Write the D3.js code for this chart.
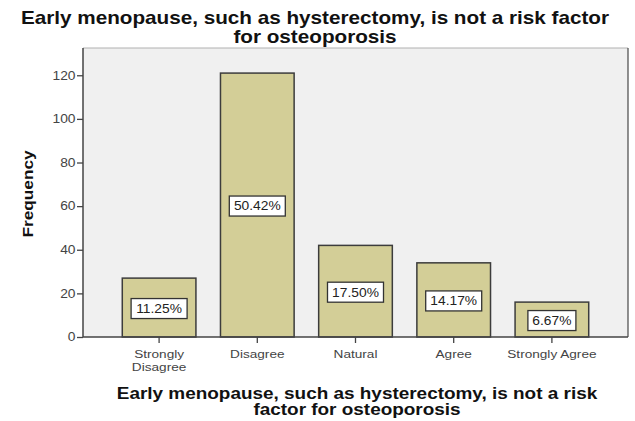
<!DOCTYPE html>
<html>
<head>
<meta charset="utf-8">
<script src="https://cdn.jsdelivr.net/npm/d3@7"></script>
<style>
  body { margin: 0; background: #fff; }
  text { font-family: Arial, "Liberation Sans", sans-serif; }
</style>
</head>
<body>
<div id="chart"></div>
<script>
var width = 635;
var height = 421;

var categories = ["Strongly Disagree", "Disagree", "Natural", "Agree", "Strongly Agree"];
var counts = [27, 121, 42, 34, 16];
var percents = ["11.25%", "50.42%", "17.50%", "14.17%", "6.67%"];
var yTicks = [0, 20, 40, 60, 80, 100, 120];

var plotLeft = 83, plotRight = 628, plotTop = 48, plotBottom = 337;
var sx = 1.15; // text in the picture is stretched a bit wide

var svg = d3.select("#chart")
	.append("svg")
	.attr("width", width)
	.attr("height", height);

var x = d3.scaleBand()
		.domain(categories)
		.range([plotLeft, plotRight])
		.paddingInner(0.25)
		.paddingOuter(0.4);

var y = d3.scaleLinear()
		.domain([0, 132.5])
		.range([plotBottom, plotTop]);

// plot background
svg.append("rect")
	.attr("x", plotLeft)
	.attr("y", plotTop)
	.attr("width", plotRight - plotLeft)
	.attr("height", plotBottom - plotTop)
	.attr("fill", "#f0f0f0")
	.attr("stroke", "none");

svg.append("line")
	.attr("x1", plotLeft).attr("x2", plotRight)
	.attr("y1", plotTop).attr("y2", plotTop)
	.attr("stroke", "#b0b0b0");
svg.append("line")
	.attr("x1", plotRight).attr("x2", plotRight)
	.attr("y1", plotTop).attr("y2", plotBottom)
	.attr("stroke", "#555")
	.attr("stroke-width", 1.3);

// bars
svg.selectAll(".bar")
	.data(categories)
	.enter()
	.append("rect")
	.attr("class", "bar")
	.attr("x", function(d){ return x(d); })
	.attr("y", function(d, i){ return y(counts[i]); })
	.attr("width", x.bandwidth())
	.attr("height", function(d, i){ return y(0) - y(counts[i]); })
	.attr("fill", "#d3ce97")
	.attr("stroke", "#3c3c3c")
	.attr("stroke-width", 1.5);

// percent labels
var lab = svg.selectAll(".lab")
	.data(categories)
	.enter()
	.append("g")
	.attr("class", "lab")
	.attr("transform", function(d, i){
		var cy = (y(counts[i]) + y(0)) / 2 + 1;
		return "translate(" + (x(d) + x.bandwidth() / 2) + "," + cy + ")";
	});

lab.append("rect")
	.attr("x", function(d, i){ return percents[i].length > 5 ? -28 : -24; })
	.attr("y", -10)
	.attr("width", function(d, i){ return percents[i].length > 5 ? 56 : 48; })
	.attr("height", 20)
	.attr("fill", "#fff")
	.attr("stroke", "#333")
	.attr("stroke-width", 1.3);

lab.append("text")
	.attr("text-anchor", "middle")
	.attr("dy", "0.36em")
	.attr("font-size", 12)
	.attr("fill", "#222")
	.attr("transform", "scale(" + sx + ",1)")
	.text(function(d, i){ return percents[i]; });

// y axis
var yAxis = svg.append("g")
	.attr("transform", "translate(" + plotLeft + ",0)")
	.call(d3.axisLeft(y).tickValues(yTicks).tickSize(6).tickSizeOuter(0));
yAxis.select(".domain").attr("stroke", "#444").attr("stroke-width", 1.5)
	.attr("d", "M0," + plotTop + "V" + plotBottom);
yAxis.selectAll(".tick line").attr("stroke", "#444").attr("stroke-width", 1.3);
yAxis.selectAll(".tick text")
	.attr("font-size", 12)
	.attr("fill", "#444")
	.attr("font-family", "Arial, 'Liberation Sans', sans-serif")
	.attr("x", -6.5)
	.attr("transform", "scale(" + sx + ",1)");

// x axis
var xAxis = svg.append("g")
	.attr("transform", "translate(0," + plotBottom + ")")
	.call(d3.axisBottom(x).tickSize(6).tickSizeOuter(0));
xAxis.select(".domain").attr("stroke", "#444").attr("stroke-width", 1.5)
	.attr("d", "M" + plotLeft + ",0H" + plotRight);
xAxis.selectAll(".tick line").attr("stroke", "#444").attr("stroke-width", 1.3);
xAxis.selectAll(".tick text").remove();

xAxis.selectAll(".tick")
	.append("text")
	.attr("text-anchor", "middle")
	.attr("fill", "#444")
	.attr("font-size", 11.5)
	.attr("font-family", "Arial, 'Liberation Sans', sans-serif")
	.attr("transform", "scale(" + (sx * 1.03) + ",1)")
	.each(function(d){
		var t = d3.select(this);
		var lines = d === "Strongly Disagree" ? ["Strongly", "Disagree"] : [d];
		lines.forEach(function(s, k){
			t.append("tspan").attr("x", 0).attr("y", 21 + k * 13).text(s);
		});
	});

// title
var title = ["Early menopause, such as hysterectomy, is not a risk factor", "for osteoporosis"];
svg.append("text")
	.attr("transform", "translate(315,0) scale(" + sx + ",1)")
	.attr("text-anchor", "middle")
	.attr("font-size", 18)
	.attr("font-weight", "bold")
	.attr("fill", "#111")
	.selectAll("tspan")
	.data(title)
	.enter()
	.append("tspan")
	.attr("x", 0)
	.attr("y", function(d, i){ return 24 + i * 19; })
	.text(function(d){ return d; });

// x title
var xTitle = ["Early menopause, such as hysterectomy, is not a risk", "factor for osteoporosis"];
svg.append("text")
	.attr("transform", "translate(357,0) scale(" + (sx * 1.03) + ",1)")
	.attr("text-anchor", "middle")
	.attr("font-size", 16)
	.attr("font-weight", "bold")
	.attr("fill", "#111")
	.selectAll("tspan")
	.data(xTitle)
	.enter()
	.append("tspan")
	.attr("x", 0)
	.attr("y", function(d, i){ return 399 + i * 16.5; })
	.text(function(d){ return d; });

// y title
svg.append("text")
	.attr("transform", "translate(33," + 194 + ") rotate(-90) scale(" + sx + ",1)")
	.attr("text-anchor", "middle")
	.attr("font-size", 15)
	.attr("font-weight", "bold")
	.attr("fill", "#111")
	.text("Frequency");
</script>
</body>
</html>
